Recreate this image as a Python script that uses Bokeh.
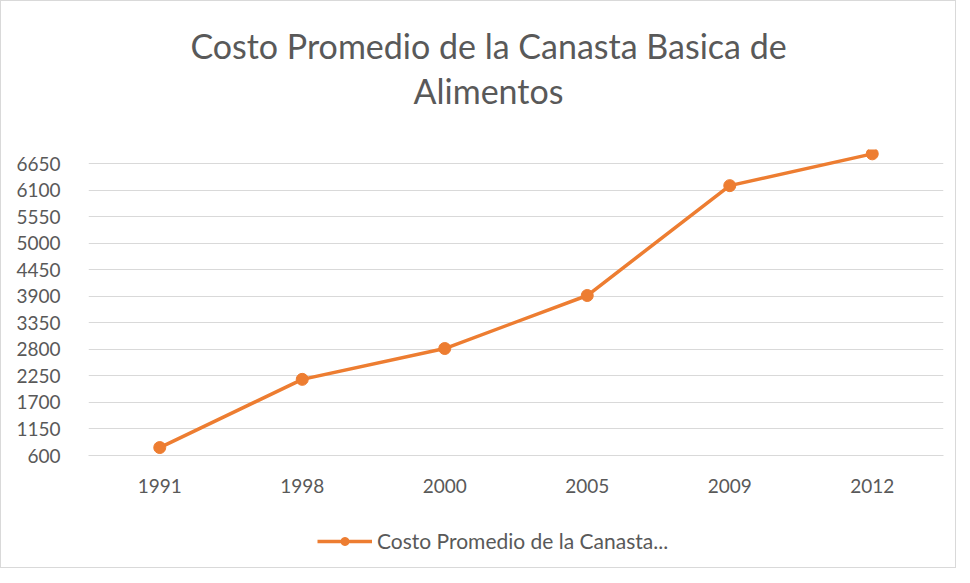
from bokeh.plotting import figure
from bokeh.layouts import column
from bokeh.models import Range1d, FixedTicker, Legend, LegendItem, Label
from bokeh.embed import file_html
from bokeh.resources import INLINE

years = ["1991", "1998", "2000", "2005", "2009", "2012"]
costs = [765, 2180, 2820, 3920, 6200, 6860]
y_ticks = [600, 1150, 1700, 2250, 2800, 3350, 3900, 4450, 5000, 5550, 6100, 6650]
series_name = "Costo Promedio de la Canasta..."
title_lines = ["Costo Promedio de la Canasta Basica de", "Alimentos"]

FONT = "Lato"
GRAY = "#595959"
ORANGE = "#ED7D31"
W = 954
LEFT, RIGHT = 87, 12


def strip(height, **kw):
    f = figure(width=W, height=height, output_backend="svg", toolbar_location=None,
               x_axis_location=None, y_axis_location=None, title=None,
               min_border_left=0, min_border_right=0, min_border_top=0, min_border_bottom=0, **kw)
    f.grid.visible = False
    f.outline_line_color = None
    f.background_fill_color = "white"
    f.border_fill_color = "white"
    return f


# --- title strip (frame aligned with the chart's frame by the column) ---
TH = 140
r = strip(TH, x_range=Range1d(LEFT, W - RIGHT), y_range=Range1d(0, TH))
for line_text, y in zip(title_lines, [96, 51]):
    r.add_layout(Label(x=487, y=y, text=line_text, text_align="center", text_baseline="alphabetic",
                       text_font=FONT, text_font_size="34px", text_color=GRAY))

# --- main chart ---
p = figure(width=W, height=359, x_range=years, y_range=Range1d(600, 6950),
           output_backend="svg", toolbar_location=None, title=None,
           min_border_left=LEFT, min_border_right=RIGHT, min_border_top=8, min_border_bottom=45)
p.outline_line_color = None
p.background_fill_color = "white"
p.border_fill_color = "white"

p.yaxis.ticker = FixedTicker(ticks=y_ticks)
p.ygrid.ticker = FixedTicker(ticks=y_ticks)
p.ygrid.grid_line_color = "#d9d9d9"
p.ygrid.grid_line_width = 1
p.xgrid.grid_line_color = None

for ax in (p.xaxis, p.yaxis):
    ax.major_label_text_font = FONT
    ax.major_label_text_font_size = "19px"
    ax.major_label_text_color = GRAY
    ax.major_tick_line_color = None
    ax.minor_tick_line_color = None
p.yaxis.axis_line_color = None
p.xaxis.axis_line_color = "#d9d9d9"
p.yaxis.major_label_standoff = 22
p.xaxis.major_label_standoff = 17

line_style = dict(line_color=ORANGE, line_width=3.5)
marker_style = dict(size=12, fill_color=ORANGE, line_color=ORANGE)
p.line(years, costs, **line_style)
p.scatter(years, costs, **marker_style)

# --- legend strip ---
q = strip(67, x_range=years, y_range=Range1d(600, 6950))
lr = q.line(years, costs, visible=False, **line_style)
sr = q.scatter(years, costs, visible=False, **marker_style)
legend = Legend(items=[LegendItem(label=series_name, renderers=[lr, sr])],
                orientation="horizontal", location=(229, 14),
                label_text_font=FONT, label_text_font_size="21px", label_text_color=GRAY,
                glyph_width=55, border_line_color=None, background_fill_alpha=0,
                inactive_fill_alpha=0, click_policy="none",
                margin=0, padding=0, label_standoff=5)
q.add_layout(legend, "center")

layout = column(r, p, q, spacing=0)
layout.styles = {"border": "1px solid #d9d9d9"}

open("out.html", "w").write(file_html(layout, INLINE))
